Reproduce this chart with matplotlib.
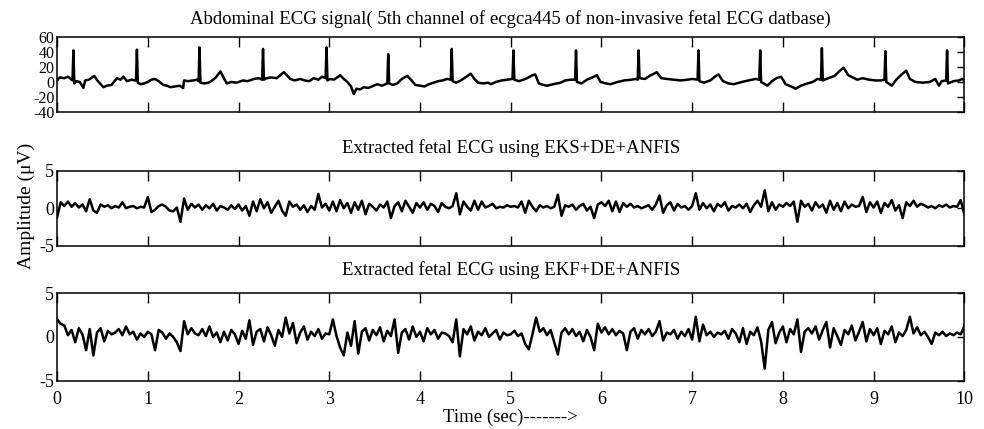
import matplotlib
matplotlib.use('Agg')
import matplotlib.pyplot as plt
import numpy as np

plt.rcParams['font.family'] = ['Liberation Serif', 'DejaVu Serif']
plt.rcParams['axes.unicode_minus'] = False

# abdominal ECG, points (time in s, amplitude)
abd_t = [0.00, 0.03, 0.08, 0.12, 0.16, 0.17, 0.18, 0.19, 0.21, 0.25, 0.29, 0.31, 0.35, 0.41, 0.45, 0.51, 0.55, 0.60, 0.66, 0.70, 0.73, 0.77, 0.82, 0.86,
         0.87, 0.88, 0.89, 0.92, 0.96, 1.00, 1.04, 1.08, 1.12, 1.17, 1.21, 1.25, 1.30, 1.35, 1.39, 1.40, 1.44, 1.50, 1.54, 1.56,
         1.57, 1.58, 1.62, 1.67, 1.70, 1.75, 1.80, 1.84, 1.87, 1.92, 1.98, 2.05, 2.10, 2.17, 2.22, 2.26,
         2.27, 2.28, 2.31, 2.36, 2.42, 2.46, 2.50, 2.54, 2.57, 2.62, 2.68, 2.73, 2.78, 2.83, 2.88, 2.92, 2.96,
         2.97, 2.98, 3.01, 3.05, 3.10, 3.12, 3.16, 3.20, 3.24, 3.27, 3.30, 3.34, 3.38, 3.43, 3.47, 3.53, 3.58, 3.62, 3.64,
         3.65, 3.66, 3.70, 3.75, 3.80, 3.86, 3.90, 3.95, 4.00, 4.05, 4.10, 4.15, 4.20, 4.25, 4.30, 4.34,
         4.35, 4.36, 4.40, 4.45, 4.50, 4.56, 4.60, 4.64, 4.70, 4.75, 4.78, 4.84, 4.90, 4.96, 5.02,
         5.03, 5.04, 5.09, 5.14, 5.18, 5.24, 5.27, 5.31, 5.36, 5.40, 5.47, 5.55, 5.60, 5.66, 5.71,
         5.72, 5.73, 5.78, 5.84, 5.90, 5.95, 5.99, 6.05, 6.10, 6.18, 6.25, 6.33, 6.38, 6.40,
         6.41, 6.42, 6.48, 6.53, 6.58, 6.61, 6.66, 6.72, 6.80, 6.87, 6.95, 7.00, 7.06,
         7.07, 7.08, 7.13, 7.20, 7.25, 7.29, 7.34, 7.40, 7.46, 7.55, 7.62, 7.70, 7.74,
         7.75, 7.76, 7.83, 7.88, 7.93, 7.98, 8.03, 8.09, 8.14, 8.20, 8.27, 8.33, 8.38, 8.42,
         8.43, 8.44, 8.50, 8.57, 8.62, 8.67, 8.72, 8.77, 8.82, 8.88, 8.95, 9.02, 9.08, 9.12,
         9.13, 9.14, 9.20, 9.25, 9.31, 9.36, 9.40, 9.46, 9.54, 9.62, 9.68, 9.72, 9.75, 9.80,
         9.81, 9.82, 9.88, 9.94, 9.98, 10.00]
abd_v = [2, 6, 5, 7, 3, 2, 42, -2, 1, 0, -8, 2, 3, 8, 1, -7, -5, -4, 5, 3, 7, 1, 3, 2,
         2, 43, -1, -3, -2, 0, 3, 4, 1, -4, -5, -7, -6, -5, -8, 2, 1, 2, 3, 1,
         46, -1, -2, -1, 1, 6, 14, 5, -2, 0, -1, 2, 1, 4, 5, 3,
         44, 3, 5, 6, 5, 9, 13, 8, 4, 2, 4, 2, 1, 5, 3, 7, 5,
         46, 2, 4, 3, 7, 9, 4, 0, -6, -16, -9, -10, -7, -8, -6, -3, -5, -3, -2,
         37, -2, -4, -2, 4, 8, 3, -4, -5, -6, -3, -1, 1, 2, 4, 3,
         44, 1, -1, 2, 6, 11, 4, -1, -2, -1, -3, 0, 2, 3, 4,
         42, 3, 1, 3, 5, 9, 10, -2, -4, -5, -3, -1, 2, 3, 3,
         42, 0, -2, 3, 6, 9, 0, -2, -3, 0, 2, 3, 4, 3,
         42, 5, 4, 8, 11, 13, 5, 4, 3, 2, 3, 4, 3,
         42, 1, -1, 2, 7, 10, 1, -2, -3, 0, 2, 4, 3,
         42, 0, -5, 1, 5, 7, -3, -6, -9, -5, -2, 0, 4, 3,
         45, 2, 5, 8, 14, 19, 9, 6, 3, 5, 3, 2, 2, 3,
         41, 0, -5, 3, 10, 15, 4, 0, -1, 0, 4, -5, 1, 2,
         42, -2, 1, 2, 4, 2]

# extracted fetal ECG, one value every 0.04 s (25 per second)
eks = [-1.2, 0.8, 0.3, 0.9, 0.2, 0.7, 0.1, 0.5, -0.4, 1.2, -0.3, -0.6, 0.5, 0.2, 0.4, 0.0, 0.3, 0.1, 0.8, 0.0, 0.2, 0.3, 0.0, 0.2, 0.1,
       1.5, -0.5, -0.2, 0.3, 0.5, 0.2, -0.3, -0.4, 0.1, -1.8, 1.3, -0.2, 0.6, 0.1, 0.5, -0.2, 0.4, 0.0, 0.6, -0.3, 0.3, 0.1, -0.2, 0.4, -0.1,
       0.5, -0.3, 0.3, -1.0, 0.9, -0.4, 1.2, 0.0, 0.8, -0.6, 0.2, 1.0, -0.3, -1.0, 0.9, 0.2, 0.5, -0.2, 0.4, -0.5, 0.3, -0.2, 1.9, 0.1, 0.6,
       -0.3, 0.9, -0.4, 1.1, 0.0, 0.7, -0.6, 0.8, -0.2, 1.0, -0.8, 0.6, 0.2, -0.3, 0.5, 0.1, 0.9, -1.3, 0.3, 0.8, -0.4, 1.0, 0.2, -0.6, 0.7,
       0.1, 0.8, -0.2, 0.6, 0.3, -0.5, 0.7, 0.2, 0.0, 0.3, 2.0, -0.8, 0.9, 0.2, -0.3, 1.0, -0.2, 0.9, 0.1, 0.3, 0.6, 0.0, 0.2, 0.1, 0.4,
       0.2, 0.3, 0.1, 0.9, -0.6, 1.0, 0.2, -0.4, 0.4, 0.1, 0.3, 0.0, 0.2, 1.8, -1.0, 0.4, 0.2, 0.5, -0.2, 0.3, 0.6, -0.3, 0.2, -1.3, 0.5,
       0.8, 0.3, 1.0, -0.4, 0.9, -0.5, 0.7, 0.2, 0.6, 0.1, 0.3, 0.0, 0.2, 0.4, -0.2, 0.5, 1.7, -0.6, 0.4, 0.8, -0.3, 0.6, 0.1, 0.3, -0.2,
       0.3, 2.0, -0.2, 0.7, 0.0, 0.5, -0.4, 0.6, 0.2, 0.8, -0.3, 0.3, 0.1, 0.5, 0.0, 0.6, -0.5, 0.4, 1.0, 0.2, 2.4, -0.4, 0.8, -0.2, 0.5,
       0.2, 0.7, 0.3, 0.9, -1.8, 1.0, 0.2, 0.6, -0.3, 0.8, 0.1, 0.5, -0.6, 1.0, -0.2, 0.7, -0.4, 0.9, 0.0, 0.5, 0.2, 0.3, 1.5, -0.5, 0.8,
       0.1, 0.9, -0.6, 0.7, 0.2, 1.1, -0.3, 0.4, -1.3, 0.8, 0.3, 1.0, 0.2, 0.6, 0.4, 0.1, 0.3, 0.0, 0.4, 0.2, 0.5, 0.1, 0.3, 0.2, 1.1,
       -0.8]
ekf = [2.0, 1.5, 1.3, 0.2, 0.8, -0.6, 1.0, 0.3, -1.5, 0.9, -2.1, 0.5, 1.0, -0.5, 0.7, 0.3, 0.5, 0.9, 0.2, 1.2, 0.3, 0.6, -0.3, 0.4, 0.0,
       0.6, 0.3, -1.5, 0.8, 0.5, -0.2, 0.4, 0.0, -0.6, -1.6, 1.8, 0.3, 1.0, 0.4, 0.2, 0.9, 0.1, 1.2, 0.0, 0.5, -0.6, 0.6, -0.4, 0.8, 0.3,
       -0.8, 0.7, -0.2, 1.9, -0.9, 0.6, 0.9, -0.5, 1.1, 0.2, -1.0, 0.8, 0.0, 2.2, 0.4, 1.6, -0.7, 0.5, 1.2, -0.3, 0.6, 0.1, 0.9, -0.2, 0.4,
       0.3, 2.0, 0.1, -1.2, -2.1, 0.5, -1.0, 1.8, -1.9, 0.6, 1.0, -0.4, 0.8, 0.2, 1.1, -0.5, 0.7, 0.1, 2.0, -1.8, 0.5, 0.9, -0.3, 1.2, 0.0,
       0.6, -0.5, 1.0, 0.3, 0.8, -0.2, 0.5, 0.4, 0.1, -0.6, 2.0, -2.2, 0.9, 0.3, 1.2, -0.4, 0.6, 0.2, 1.0, 0.0, 0.4, 0.8, -0.3, 0.5, 0.2,
       0.3, 0.7, 0.1, 0.4, -0.8, -1.4, 0.3, 2.2, 0.6, 1.0, 0.2, 0.8, -0.6, -2.0, 0.5, 1.0, 0.3, 0.9, 0.1, 0.6, -0.5, 0.8, 0.0, -1.5, 1.5,
       0.5, 1.1, 0.3, 0.9, 0.2, 0.7, 0.4, -1.5, 0.6, 1.0, -0.2, 0.8, 0.3, 0.9, 0.1, 0.6, 1.8, -0.4, 0.5, 0.3, 0.8, -0.2, 0.6, 0.1, 0.9,
       -0.3, 2.3, -0.5, 1.4, 0.2, 0.6, 0.0, 0.5, 0.3, 0.7, -0.2, 0.9, 0.4, -0.6, 1.0, -0.8, 0.6, 0.2, 1.1, -0.5, -3.6, 0.8, 1.7, -0.7, 0.5,
       1.2, -0.6, 0.9, 0.3, 2.0, -1.7, 0.6, 1.0, 0.4, 1.2, -0.3, 0.8, 1.7, -1.2, 1.0, 0.1, -0.9, 0.8, 0.3, 1.3, -0.4, 0.6, 1.7, -0.5, 0.9,
       0.2, 1.0, -0.8, 0.7, 0.3, 1.2, -0.6, 0.5, 0.1, 0.8, 2.3, 0.4, 1.1, 0.2, 0.6, 0.0, -0.8, 0.5, 0.2, 0.6, 0.1, 0.4, 0.2, 0.5, 0.3,
       1.2]
fetal_t = np.arange(len(eks)) * 0.04

titles = ['Abdominal ECG signal( 5th channel of ecgca445 of non-invasive fetal ECG datbase)',
          'Extracted fetal ECG using EKS+DE+ANFIS',
          'Extracted fetal ECG using EKF+DE+ANFIS']
title_pads = [9, 13, 13]

fig = plt.figure(figsize=(9.84, 4.29), dpi=100)
ax1 = fig.add_axes([0.058, 0.739, 0.922, 0.175])
ax2 = fig.add_axes([0.058, 0.427, 0.922, 0.175])
ax3 = fig.add_axes([0.058, 0.112, 0.922, 0.205])

ax1.plot(abd_t, abd_v, color='k', lw=1.8)
ax2.plot(fetal_t, eks, color='k', lw=1.8)
ax3.plot(fetal_t, ekf, color='k', lw=1.8)

ax1.set_ylim(-40, 60)
ax1.set_yticks([-40, -20, 0, 20, 40, 60])
for ax in (ax2, ax3):
    ax.set_ylim(-5, 5)
    ax.set_yticks([-5, 0, 5])

for ax, ttl, pd in zip((ax1, ax2, ax3), titles, title_pads):
    ax.set_xlim(0, 10)
    ax.set_xticks(range(11))
    ax.set_title(ttl, fontsize=13.5, pad=pd)
    ax.tick_params(axis='x', direction='in', top=True, bottom=True, length=7, width=1, labelsize=13, pad=7)
    ax.tick_params(axis='y', direction='in', left=False, right=True, length=5, width=1, labelsize=13, pad=2)
    for s in ax.spines.values():
        s.set_linewidth(1.1)
for ax in (ax1, ax2):
    ax.tick_params(axis='x', labelbottom=False)
# the top panel's ticks are close together, keep the labels a bit smaller
ax1.tick_params(axis='y', labelsize=11.5)

ax3.set_xlabel('Time (sec)------->', fontsize=13.5, labelpad=1)
fig.text(0.027, 0.52, 'Amplitude (\u03bcV)', rotation=90, fontsize=14, ha='center', va='center')

fig.savefig('out.png', dpi=100)
